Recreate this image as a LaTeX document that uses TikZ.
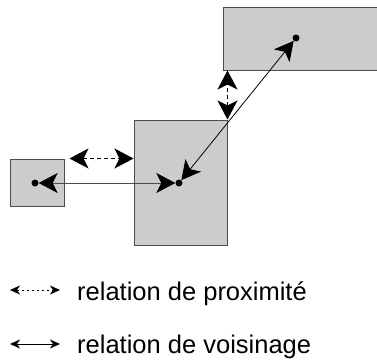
\documentclass[tikz,border=0pt]{standalone}
\usepackage{fontspec}
\setmainfont{Liberation Sans}
\usetikzlibrary{arrows.meta, positioning, calc}

\begin{document}
\begin{tikzpicture}[
  x=1pt, y=1pt,
  region/.style={rectangle, draw=black!70, line width=1pt, fill=black!20, inner sep=0pt},
  dot/.style={circle, fill=black, inner sep=0pt, minimum size=7pt},
  bigtip/.style={{Stealth[length=19pt, width=20pt, inset=5pt, color=black]}-{Stealth[length=19pt, width=20pt, inset=5pt, color=black]}},
  smalltip/.style={{Stealth[length=10pt, width=9pt, inset=3pt]}-{Stealth[length=10pt, width=9pt, inset=3pt]}},
  voisin/.style={bigtip, line width=0.8pt},
  proxi/.style={bigtip, line width=1pt, dash pattern=on 4pt off 3pt},
  voisinleg/.style={smalltip, line width=0.9pt},
  proxileg/.style={smalltip, line width=0.6pt, dash pattern=on 2.5pt off 2.5pt},
  legende/.style={anchor=base west, inner sep=0pt, font=\fontsize{25.5}{30}\selectfont}
]
\useasboundingbox (0,0) rectangle (377,360);

% regions
\node (petit) [region, minimum width=54pt, minimum height=47pt] at (37,177.5) {};
\node (milieu) [region, minimum width=93pt, minimum height=125pt] at (180.5,177.5) {};
\node (haut) [region, minimum width=156pt, minimum height=63pt] at (301,321.5) {};

% centres
\node (cp) [dot] at (35,177) {};
\node (cm) [dot] at (179,177) {};
\node (ch) [dot] at (296,322) {};

% voisinage
\draw [voisin, black!70] (cp) -- (cm);
\draw [voisin] (cm) -- (ch);

% proximite
\draw [proxi] ([xshift=5pt]petit.north east) -- (petit.north east -| milieu.west);
\draw [proxi] (milieu.north east) -- (milieu.north east |- haut.south);

% legende
\coordinate (p1) at (10,70);
\coordinate (p2) at (60,70);
\coordinate (v1) at (10,16);
\coordinate (v2) at (60,16);
\draw [proxileg] (p1) -- (p2);
\draw [voisinleg] (v1) -- (v2);
\node (tp) [legende] at (77,60) {relation de proximité};
\node (tv) [legende] at (77,7) {relation de voisinage};

\end{tikzpicture}
\end{document}
